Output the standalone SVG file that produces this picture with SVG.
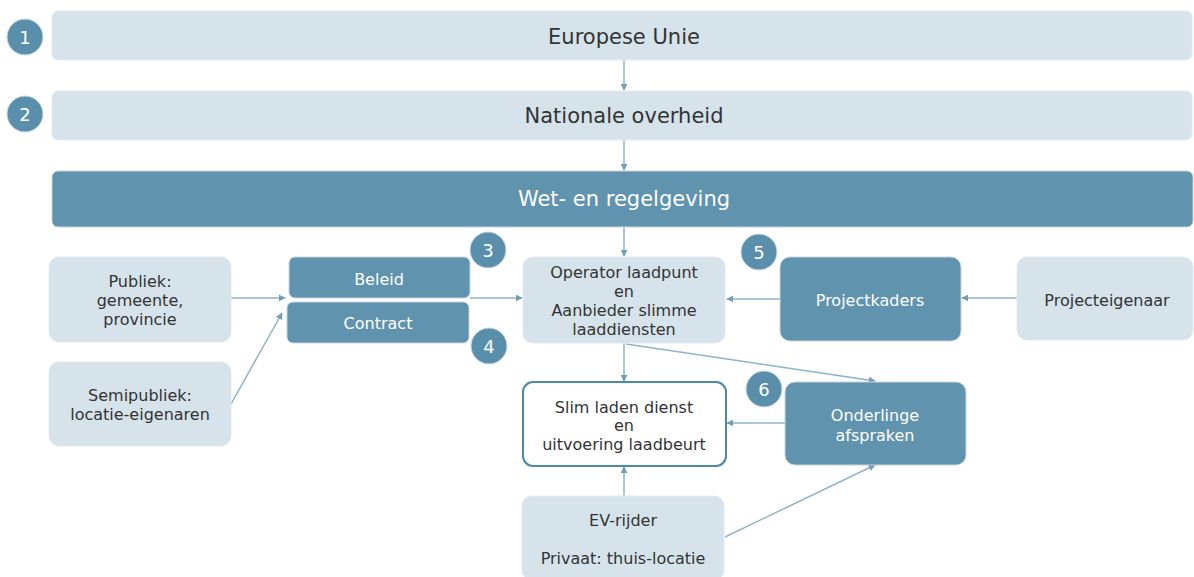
<svg xmlns="http://www.w3.org/2000/svg" width="1194" height="577" viewBox="0 0 1194 577">
  <style>
    .light { fill: #d6e3eb; stroke: #e3eaee; stroke-width: 1; }
    .dark { fill: #5f93ae; stroke: #c9d3d9; stroke-width: 1; }
    .outline { fill: #ffffff; stroke: #4a87a9; stroke-width: 2; }
    .badge { fill: #5a8fab; stroke: #cfdde6; stroke-width: 1; }
    text { font-family: "DejaVu Sans", Verdana, sans-serif; text-anchor: middle; dominant-baseline: central; }
    .t { fill: #333333; font-size: 16px; }
    .tw { fill: #ffffff; font-size: 16px; }
    .big { fill: #333333; font-size: 21px; }
    .bigw { fill: #ffffff; font-size: 21px; }
    .num { fill: #ffffff; font-size: 18px; }
    .edge { fill: none; stroke: #8fb3c8; stroke-width: 1.5; marker-end: url(#arrow); }
  </style>
  <defs>
    <marker id="arrow" viewBox="0 0 10 10" refX="9" refY="5" markerWidth="7" markerHeight="7" markerUnits="userSpaceOnUse" orient="auto">
      <path d="M0,0 L10,5 L0,10 z" fill="#6f9fba"/>
    </marker>
  </defs>

  <!-- connectors -->
  <g id="connectors">
    <line class="edge" x1="624" y1="60" x2="624" y2="90"/>
    <line class="edge" x1="624" y1="140" x2="624" y2="170"/>
    <line class="edge" x1="624" y1="227" x2="624" y2="256"/>
    <line class="edge" x1="231" y1="298" x2="285" y2="298"/>
    <line class="edge" x1="231" y1="404" x2="282" y2="313"/>
    <line class="edge" x1="470" y1="298" x2="522" y2="298"/>
    <line class="edge" x1="780" y1="299" x2="727" y2="299"/>
    <line class="edge" x1="1017" y1="298" x2="962" y2="298"/>
    <line class="edge" x1="624" y1="343" x2="624" y2="381"/>
    <line class="edge" x1="626" y1="344" x2="875" y2="381"/>
    <line class="edge" x1="785" y1="423" x2="727" y2="423"/>
    <line class="edge" x1="624" y1="496" x2="624" y2="467"/>
    <line class="edge" x1="725" y1="537" x2="875" y2="465"/>
  </g>

  <g id="eu">
    <rect class="light" x="52" y="11" width="1140" height="49" rx="6"/>
    <text class="big" x="624" y="37">Europese Unie</text>
  </g>
  <g id="badge1">
    <circle class="badge" cx="25" cy="37" r="18"/>
    <text class="num" x="25" y="37">1</text>
  </g>

  <g id="nationaal">
    <rect class="light" x="52" y="91" width="1140" height="49" rx="6"/>
    <text class="big" x="624" y="116">Nationale overheid</text>
  </g>
  <g id="badge2">
    <circle class="badge" cx="25" cy="114" r="18"/>
    <text class="num" x="25" y="114">2</text>
  </g>

  <g id="wetgeving">
    <rect class="dark" x="52" y="171" width="1141" height="56" rx="6"/>
    <text class="bigw" x="624" y="199">Wet- en regelgeving</text>
  </g>

  <g id="publiek">
    <rect class="light" x="49" y="257" width="182" height="85" rx="10"/>
    <text class="t" x="140" y="281">Publiek:</text>
    <text class="t" x="140" y="300">gemeente,</text>
    <text class="t" x="140" y="319">provincie</text>
  </g>

  <g id="semipubliek">
    <rect class="light" x="49" y="362" width="182" height="84" rx="10"/>
    <text class="t" x="140" y="395">Semipubliek:</text>
    <text class="t" x="140" y="414">locatie-eigenaren</text>
  </g>

  <g id="beleid">
    <rect class="dark" x="289" y="257" width="181" height="41" rx="6"/>
    <text class="tw" x="379" y="279">Beleid</text>
  </g>

  <g id="contract">
    <rect class="dark" x="287" y="302" width="182" height="41" rx="6"/>
    <text class="tw" x="378" y="323">Contract</text>
  </g>

  <g id="badge3">
    <circle class="badge" cx="488" cy="250" r="18"/>
    <text class="num" x="488" y="250">3</text>
  </g>
  <g id="badge4">
    <circle class="badge" cx="489" cy="346" r="18"/>
    <text class="num" x="489" y="346">4</text>
  </g>

  <g id="operator">
    <rect class="light" x="523" y="257" width="202" height="86" rx="10"/>
    <text class="t" x="624" y="272">Operator laadpunt</text>
    <text class="t" x="624" y="291">en</text>
    <text class="t" x="624" y="310">Aanbieder slimme</text>
    <text class="t" x="624" y="329">laaddiensten</text>
  </g>

  <g id="badge5">
    <circle class="badge" cx="759" cy="252" r="18"/>
    <text class="num" x="759" y="252">5</text>
  </g>

  <g id="projectkaders">
    <rect class="dark" x="780" y="257" width="181" height="84" rx="10"/>
    <text class="tw" x="870" y="300">Projectkaders</text>
  </g>

  <g id="projecteigenaar">
    <rect class="light" x="1017" y="257" width="176" height="83" rx="10"/>
    <text class="t" x="1107" y="300">Projecteigenaar</text>
  </g>

  <g id="slimladen">
    <rect class="outline" x="523" y="382" width="203" height="84" rx="10"/>
    <text class="t" x="624" y="407">Slim laden dienst</text>
    <text class="t" x="624" y="425">en</text>
    <text class="t" x="624" y="444">uitvoering laadbeurt</text>
  </g>

  <g id="badge6">
    <circle class="badge" cx="764" cy="389" r="18"/>
    <text class="num" x="764" y="389">6</text>
  </g>

  <g id="afspraken">
    <rect class="dark" x="785" y="382" width="181" height="83" rx="10"/>
    <text class="tw" x="875" y="415">Onderlinge</text>
    <text class="tw" x="875" y="435">afspraken</text>
  </g>

  <g id="evrijder">
    <rect class="light" x="522" y="496" width="202" height="84" rx="10"/>
    <text class="t" x="623" y="520">EV-rijder</text>
    <text class="t" x="623" y="558">Privaat: thuis-locatie</text>
  </g>
</svg>
